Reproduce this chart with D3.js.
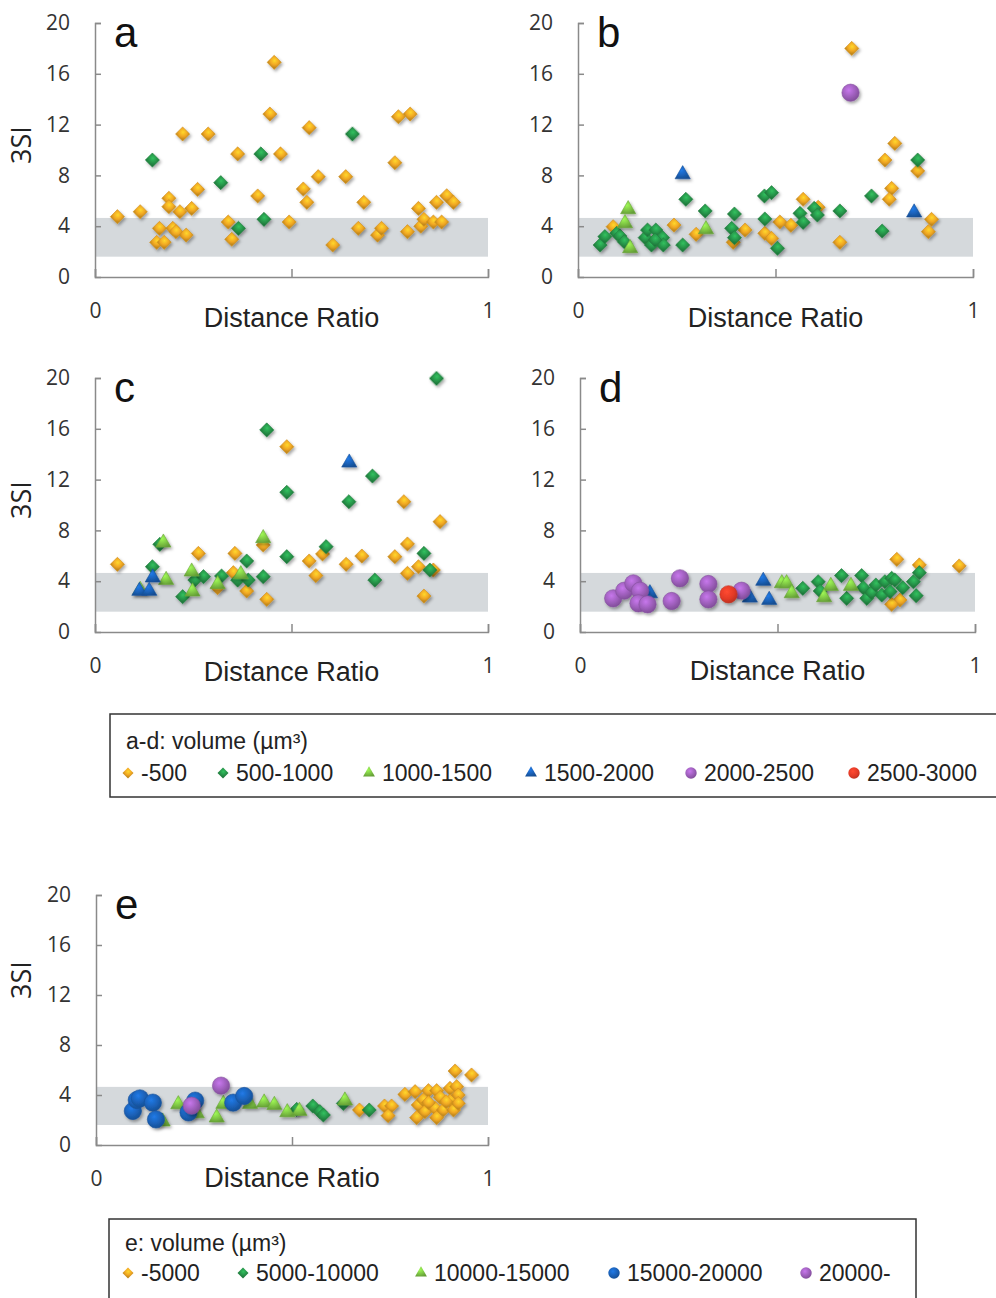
<!DOCTYPE html>
<html>
<head>
<meta charset="utf-8">
<script src="https://cdn.jsdelivr.net/npm/d3@7"></script>
<style>
  body { margin: 0; background: #fff; }
  svg { display: block; font-family: "Open Sans", "Noto Sans", sans-serif; }
</style>
</head>
<body>
<svg width="996" height="1298"></svg>
<script>
// ---- data: [distance ratio, 3SI] ----
// panel a
var aVol500 = [[0.057,4.75],[0.115,5.14],[0.188,6.2],[0.188,5.54],[0.216,5.14],[0.246,5.4],[0.261,6.9],
  [0.223,11.26],[0.288,11.26],[0.164,3.83],[0.198,3.83],[0.206,3.57],[0.232,3.3],[0.157,2.73],[0.176,2.73],
  [0.339,4.33],[0.348,2.97],[0.363,9.69],[0.414,6.38],[0.445,12.83],[0.456,16.9],[0.472,9.69],[0.494,4.33],
  [0.530,6.93],[0.539,5.88],[0.545,11.76],[0.568,7.9],[0.605,2.52],[0.638,7.9],[0.670,3.83],[0.684,5.88],
  [0.719,3.3],[0.729,3.83],[0.763,9.0],[0.772,12.62],[0.802,12.83],[0.795,3.57],[0.823,5.4],[0.829,4.0],
  [0.837,4.54],[0.861,4.33],[0.882,4.33],[0.869,5.88],[0.895,6.4],[0.912,5.88]];
var aVol1000 = [[0.146,9.21],[0.320,7.43],[0.422,9.69],[0.430,4.54],[0.365,3.83],[0.655,11.26]];

// panel b
var bVol500 = [[0.693,18.0],[0.802,10.52],[0.777,9.21],[0.794,6.98],[0.788,6.12],[0.860,8.35],[0.895,4.54],
  [0.887,3.57],[0.663,2.73],[0.570,6.12],[0.608,5.49],[0.511,4.33],[0.539,4.07],[0.473,3.44],[0.490,3.04],
  [0.423,3.7],[0.393,2.73],[0.299,3.36],[0.243,4.09],[0.089,3.96],[0.191,2.78]];
var bVol1000 = [[0.860,9.21],[0.743,6.38],[0.770,3.62],[0.663,5.2],[0.598,5.41],[0.606,4.88],[0.562,5.01],
  [0.570,4.3],[0.472,6.38],[0.490,6.64],[0.473,4.57],[0.505,2.26],[0.396,4.96],[0.389,3.83],[0.396,3.1],
  [0.322,5.2],[0.273,6.12],[0.265,2.52],[0.056,2.52],[0.068,3.18],[0.098,3.44],[0.106,3.23],[0.117,2.78],
  [0.170,3.1],[0.176,3.7],[0.197,3.7],[0.186,2.52],[0.214,3.1],[0.216,2.52],[0.195,2.91]];
var bVol1500 = [[0.127,5.33],[0.119,4.23],[0.132,2.26],[0.324,3.75]];
var bVol2000 = [[0.265,8.08],[0.851,5.07]];
var bVol2500 = [[0.690,14.51]];

// panel c
var cVol500 = [[0.057,5.33],[0.263,6.19],[0.356,6.19],[0.352,4.67],[0.386,3.23],[0.312,3.49],[0.428,6.85],
  [0.437,2.57],[0.488,14.59],[0.545,5.59],[0.562,4.44],[0.579,6.14],[0.639,5.33],[0.679,5.98],[0.763,5.93],
  [0.786,10.26],[0.795,6.93],[0.795,4.62],[0.823,5.14],[0.837,2.83],[0.861,4.88],[0.878,8.69]];
var cVol1000 = [[0.146,5.14],[0.165,6.9],[0.223,2.78],[0.254,4.09],[0.276,4.36],[0.322,4.41],[0.363,4.09],
  [0.386,5.59],[0.390,4.09],[0.428,4.36],[0.437,15.91],[0.488,11.0],[0.488,5.93],[0.588,6.72],[0.646,10.26],
  [0.706,12.28],[0.712,4.09],[0.837,6.19],[0.852,4.88],[0.869,19.97]];
var cVol1500 = [[0.174,7.03],[0.181,4.09],[0.246,4.75],[0.248,3.18],[0.312,3.75],[0.371,4.54],[0.428,7.38],
  [0.115,3.31]];
var cVol2000 = [[0.113,3.23],[0.138,3.23],[0.147,4.28],[0.647,13.33]];

// panel d
var dVol500 = [[0.802,5.72],[0.859,5.28],[0.960,5.2],[0.810,2.52],[0.789,2.18]];
var dVol1000 = [[0.564,3.44],[0.603,3.96],[0.608,3.23],[0.662,4.44],[0.675,2.65],[0.713,4.44],[0.717,3.49],
  [0.726,2.65],[0.738,3.1],[0.749,3.7],[0.764,2.91],[0.772,3.96],[0.789,4.23],[0.797,4.09],[0.817,3.49],
  [0.844,3.96],[0.859,4.67],[0.851,2.86],[0.785,3.18]];
var dVol1500 = [[0.511,3.83],[0.523,3.83],[0.536,3.04],[0.635,3.62],[0.618,2.73],[0.686,3.62]];
var dVol2000 = [[0.177,3.04],[0.430,2.7],[0.464,4.02],[0.479,2.52]];
var dVol2500 = [[0.084,2.65],[0.112,3.25],[0.135,3.83],[0.152,3.25],[0.148,2.26],[0.171,2.18],[0.232,2.44],
  [0.253,4.23],[0.325,3.78],[0.325,2.57],[0.409,3.25]];
var dVol3000 = [[0.376,2.97]];

// panel e
var eVol5000 = [[0.672,2.8],[0.736,3.12],[0.754,3.12],[0.745,2.35],[0.788,4.05],[0.814,4.27],[0.822,3.2],
  [0.818,2.19],[0.848,4.35],[0.835,3.6],[0.839,2.67],[0.869,4.35],[0.878,3.81],[0.865,2.93],[0.869,2.19],
  [0.886,2.8],[0.903,4.53],[0.903,3.52],[0.912,2.8],[0.920,4.67],[0.924,4.0],[0.924,3.33],[0.916,5.92],
  [0.958,5.6],[0.848,3.39],[0.893,3.47]];
var eVol10000 = [[0.512,2.85],[0.553,3.12],[0.571,2.67],[0.580,2.4],[0.631,3.33],[0.697,2.8]];
var eVol15000 = [[0.210,3.25],[0.257,2.53],[0.308,2.19],[0.325,3.28],[0.393,3.28],[0.429,3.39],[0.455,3.2],
  [0.488,2.61],[0.519,2.72],[0.635,3.55],[0.170,1.87]];
var eVol20000 = [[0.094,2.72],[0.104,3.6],[0.112,3.73],[0.145,3.39],[0.153,2.05],[0.236,2.61],[0.253,3.55],
  [0.350,3.39],[0.378,3.92]];
var eVolMax = [[0.244,3.15],[0.319,4.75]];

var yTicks = [0, 4, 8, 12, 16, 20];
var xTicks = [0, 0.5, 1];
var xLabels = [0, 1];
var bandRange = [1.6, 4.65];
var legendAD = ["-500", "500-1000", "1000-1500", "1500-2000", "2000-2500", "2500-3000"];
var legendE = ["-5000", "5000-10000", "10000-15000", "15000-20000", "20000-"];

// ---- styles ----
var YEL = "#f1a823", GRN = "#27964a", LGN = "#7cc243", BLU = "#1a5fb4", PUR = "#9b5db8", RED = "#e33a26";
var styleAD = [[YEL, "diamond"], [GRN, "diamond"], [LGN, "triangle"], [BLU, "triangle"], [PUR, "circle"], [RED, "circle"]];
var styleE = [[YEL, "diamond"], [GRN, "diamond"], [LGN, "triangle"], [BLU, "circle"], [PUR, "circle"]];

var panels = [
  {id: "a", left: 95, right: 488, top: 23, bottom: 277, series: [aVol500, aVol1000], style: styleAD, ylab: 145, drOff: 41},
  {id: "b", left: 578, right: 973, top: 23, bottom: 277, series: [bVol500, bVol1000, bVol1500, bVol2000, bVol2500], style: styleAD, drOff: 41},
  {id: "c", left: 95, right: 488, top: 378, bottom: 632, series: [cVol500, cVol1000, cVol1500, cVol2000], style: styleAD, ylab: 500, drOff: 40},
  {id: "d", left: 580, right: 975, top: 378, bottom: 632, series: [dVol500, dVol1000, dVol1500, dVol2000, dVol2500, dVol3000], style: styleAD, drOff: 39},
  {id: "e", left: 96, right: 488, top: 895, bottom: 1145, series: [eVol5000, eVol10000, eVol15000, eVol20000, eVolMax], style: styleE, ylab: 980, drOff: 33}
];

var svg = d3.select("svg");
svg.append("rect").attr("width", 996).attr("height", 1298).attr("fill", "#fff");

var defs = svg.append("defs");
defs.append("filter").attr("id", "shadow")
    .attr("x", "-50%").attr("y", "-50%").attr("width", "200%").attr("height", "200%")
  .append("feDropShadow")
    .attr("dx", 1.5).attr("dy", 2).attr("stdDeviation", 1.8)
    .attr("flood-color", "#000").attr("flood-opacity", 0.35);

function gradId(c) { return "g" + c.slice(1); }
[YEL, GRN, LGN, BLU, PUR, RED].forEach(function(c) {
  var gr = defs.append("radialGradient").attr("id", gradId(c))
      .attr("cx", "40%").attr("cy", "35%").attr("r", "70%");
  gr.append("stop").attr("offset", "0%").attr("stop-color", d3.color(c).brighter(0.7));
  gr.append("stop").attr("offset", "60%").attr("stop-color", c);
  gr.append("stop").attr("offset", "100%").attr("stop-color", d3.color(c).darker(0.6));
});

function shapePath(shape, k) {
  if (shape == "diamond") return d3.symbol(d3.symbolSquare, 100 * k * k)();
  if (shape == "triangle") return d3.symbol(d3.symbolTriangle, 100 * k * k)();
  return d3.symbol(d3.symbolCircle, 235 * k * k)();
}

panels.forEach(function(p) {
  var x = d3.scaleLinear().domain([0, 1]).range([p.left, p.right]);
  var y = d3.scaleLinear().domain([0, 20]).range([p.bottom, p.top]);
  var g = svg.append("g").attr("class", "panel-" + p.id);

  // grey band
  g.append("rect")
      .attr("x", x(0)).attr("width", x(1) - x(0))
      .attr("y", y(bandRange[1])).attr("height", y(bandRange[0]) - y(bandRange[1]))
      .attr("fill", "#d5d9dc");

  var yAxis = g.append("g")
      .attr("transform", "translate(" + p.left + ",0)")
      .call(d3.axisLeft(y).tickValues(yTicks).tickSize(-6).tickPadding(25).tickFormat(d3.format("d")));
  var xAxis = g.append("g")
      .attr("transform", "translate(0," + p.bottom + ")")
      .call(d3.axisBottom(x).tickValues(xTicks).tickSize(-8).tickPadding(26)
        .tickFormat(function(d) { return xLabels.indexOf(d) >= 0 ? d : ""; }));
  [yAxis, xAxis].forEach(function(ax) {
    ax.select(".domain").attr("stroke", "#8a8a8a").attr("stroke-width", 1.5);
    ax.selectAll(".tick line").attr("stroke", "#8a8a8a").attr("stroke-width", 1.5);
    ax.selectAll("text").attr("font-size", 21).attr("fill", "#333").attr("font-family", "Open Sans, sans-serif");
  });
  yAxis.select(".tick:first-of-type line").remove();

  g.append("text")
      .attr("x", (p.left + p.right) / 2).attr("y", p.bottom + p.drOff)
      .attr("dy", "0.35em").attr("text-anchor", "middle")
      .attr("font-family", "Liberation Sans, Arial, sans-serif")
      .attr("font-size", 27).attr("fill", "#222")
      .text("Distance Ratio");

  if (p.ylab) {
    g.append("text")
        .attr("transform", "translate(31," + p.ylab + ") rotate(-90)")
        .attr("text-anchor", "middle")
        .attr("font-size", 27).attr("fill", "#222")
        .text("3SI");
  }

  g.append("text")
      .attr("x", p.left + 19).attr("y", p.top + 24)
      .attr("font-family", "Liberation Sans, Arial, sans-serif")
      .attr("font-size", 42).attr("fill", "#111")
      .text(p.id);

  p.series.forEach(function(data, i) {
    var c = p.style[i][0], shape = p.style[i][1];
    g.append("g")
        .attr("filter", "url(#shadow)")
      .selectAll("path")
      .data(data)
      .enter().append("path")
        .attr("d", shapePath(shape, 1))
        .attr("transform", function(d) {
          return "translate(" + x(d[0]) + "," + y(d[1]) + ")" + (shape == "diamond" ? " rotate(45)" : "");
        })
        .attr("fill", "url(#" + gradId(c) + ")")
        .attr("stroke", d3.color(c).darker(0.4))
        .attr("stroke-width", 0.6);
  });
});

// legends
function drawLegend(box, title, keys, style, xs, titleY, itemY) {
  var lg = svg.append("g").attr("font-family", "Liberation Sans, Arial, sans-serif");
  lg.append("rect")
      .attr("x", box[0]).attr("y", box[1]).attr("width", box[2]).attr("height", box[3])
      .attr("fill", "none").attr("stroke", "#333").attr("stroke-width", 1.5);
  lg.append("text")
      .attr("x", box[0] + 16).attr("y", box[1] + titleY)
      .attr("dy", "0.35em")
      .attr("font-size", 23).attr("fill", "#222")
      .text(title);
  var item = lg.selectAll(".item")
      .data(keys)
      .enter().append("g")
        .attr("class", "item")
        .attr("transform", function(d, i) { return "translate(" + xs[i] + "," + (box[1] + itemY) + ")"; });
  item.append("path")
      .attr("d", function(d, i) { return shapePath(style[i][1], style[i][1] == "circle" ? 0.66 : 0.78); })
      .attr("transform", function(d, i) { return style[i][1] == "diamond" ? "rotate(45)" : null; })
      .attr("fill", function(d, i) { return "url(#" + gradId(style[i][0]) + ")"; });
  item.append("text")
      .attr("x", 13).attr("dy", "0.36em")
      .attr("font-size", 23).attr("fill", "#222")
      .text(function(d) { return d; });
}

drawLegend([110, 714, 900, 83], "a-d: volume (\u00b5m\u00b3)", legendAD, styleAD, [128, 223, 369, 531, 691, 854], 27, 59);
drawLegend([109, 1219, 807, 100], "e: volume (\u00b5m\u00b3)", legendE, styleE, [128, 243, 421, 614, 806], 24, 54);
</script>
</body>
</html>
